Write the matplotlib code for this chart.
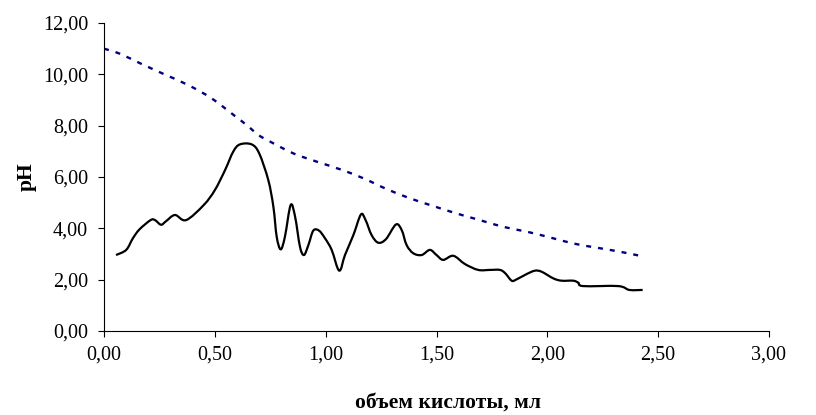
import matplotlib
matplotlib.use("Agg")
import matplotlib.pyplot as plt
from matplotlib.ticker import FuncFormatter
from matplotlib.path import Path
from matplotlib.patches import PathPatch

# measured pH (black smoothed curve)
vol_meas = [0.054, 0.10, 0.13, 0.16, 0.21, 0.23, 0.257, 0.28, 0.32, 0.37, 0.45, 0.50,
            0.546, 0.583, 0.613, 0.666, 0.70, 0.741, 0.764, 0.779, 0.797, 0.816, 0.842,
            0.862, 0.884, 0.902, 0.922, 0.944, 0.97, 0.997, 1.027, 1.061, 1.087, 1.125,
            1.159, 1.18, 1.207, 1.237, 1.272, 1.317, 1.343, 1.365, 1.395, 1.433, 1.47,
            1.50, 1.53, 1.576, 1.628, 1.688, 1.741, 1.786, 1.81, 1.839, 1.861, 1.907,
            1.944, 1.974, 2.027, 2.064, 2.117, 2.14, 2.162, 2.32, 2.37, 2.43]
ph_meas = [2.96, 3.16, 3.61, 3.96, 4.32, 4.32, 4.14, 4.28, 4.52, 4.32, 4.91, 5.49,
           6.27, 6.99, 7.27, 7.27, 6.92, 5.88, 4.84, 3.67, 3.18, 3.67, 4.91,
           4.45, 3.28, 2.96, 3.35, 3.91, 3.91, 3.61, 3.16, 2.35, 2.96, 3.74,
           4.54, 4.32, 3.74, 3.44, 3.58, 4.15, 3.93, 3.35, 3.03, 2.96, 3.16,
           2.96, 2.77, 2.93, 2.61, 2.38, 2.38, 2.38, 2.25, 1.96, 2.01, 2.22,
           2.35, 2.31, 2.05, 1.96, 1.96, 1.88, 1.75, 1.75, 1.60, 1.60]

# theoretical pH (blue dashed curve)
vol_theor = [0.0, 0.072, 0.17, 0.275, 0.38, 0.486, 0.59, 0.644, 0.696, 0.749, 0.854,
             0.959, 1.065, 1.17, 1.275, 1.38, 1.485, 1.59, 1.696, 1.80, 1.907, 2.01,
             2.117, 2.22, 2.327, 2.44]
ph_theor = [11.0, 10.8, 10.4, 9.99, 9.58, 9.06, 8.38, 8.02, 7.64, 7.38, 6.92,
            6.60, 6.30, 5.95, 5.53, 5.17, 4.87, 4.58, 4.32, 4.06, 3.87, 3.65,
            3.41, 3.25, 3.09, 2.89]

x_ticks = [0, 0.5, 1.0, 1.5, 2.0, 2.5, 3.0]
y_ticks = [0, 2, 4, 6, 8, 10, 12]
x_label = "объем кислоты, мл"
y_label = "pH"

plt.rcParams['font.family'] = ['Liberation Serif', 'DejaVu Serif']
plt.rcParams['lines.scale_dashes'] = False


def smooth_path(xs, ys, k=1.0 / 6.0):
    """Excel-like smoothed line: cubic Bezier segments through the data points."""
    n = len(xs)
    verts = [(xs[0], ys[0])]
    codes = [Path.MOVETO]
    for i in range(n - 1):
        x0, y0 = (xs[i - 1], ys[i - 1]) if i > 0 else (xs[i], ys[i])
        x1, y1 = xs[i], ys[i]
        x2, y2 = xs[i + 1], ys[i + 1]
        x3, y3 = (xs[i + 2], ys[i + 2]) if i + 2 < n else (x2, y2)
        c1 = (x1 + (x2 - x0) * k, y1 + (y2 - y0) * k)
        c2 = (x2 - (x3 - x1) * k, y2 - (y3 - y1) * k)
        verts += [c1, c2, (x2, y2)]
        codes += [Path.CURVE4] * 3
    return Path(verts, codes)


fig = plt.figure(figsize=(8.16, 4.15), dpi=100)
ax = fig.add_axes([0.1275, 0.2024, 0.8149, 0.7422])

ax.add_patch(PathPatch(smooth_path(vol_theor, ph_theor), facecolor='none',
                       edgecolor='#000080', lw=1.7, linestyle=(0, (3.6, 5.0))))
ax.add_patch(PathPatch(smooth_path(vol_meas, ph_meas), facecolor='none',
                       edgecolor='black', lw=1.6, joinstyle='round', capstyle='butt'))

ax.set_xlim(0, 3)
ax.set_ylim(0, 12)
ax.set_xticks(x_ticks)
ax.set_yticks(y_ticks)
fmt = FuncFormatter(lambda v, p: f"{v:.2f}".replace('.', ','))
ax.xaxis.set_major_formatter(fmt)
ax.yaxis.set_major_formatter(fmt)
ax.tick_params(direction='out', length=4.5, width=0.8, labelsize=14.5)
ax.tick_params(axis='y', pad=7)
ax.tick_params(axis='x', pad=6)

for s in ['top', 'right']:
    ax.spines[s].set_visible(False)
for s in ['left', 'bottom']:
    ax.spines[s].set_linewidth(0.8)

ax.set_xlabel(x_label, fontsize=15.5, fontweight='bold')
ax.set_ylabel(y_label, fontsize=15.5, fontweight='bold')
ax.xaxis.set_label_coords(0.517, -0.232)
ax.yaxis.set_label_coords(-0.117, 0.5)
ax.xaxis.label.set_va('center')
ax.yaxis.label.set_va('center')

fig.savefig("out.png", dpi=100)
